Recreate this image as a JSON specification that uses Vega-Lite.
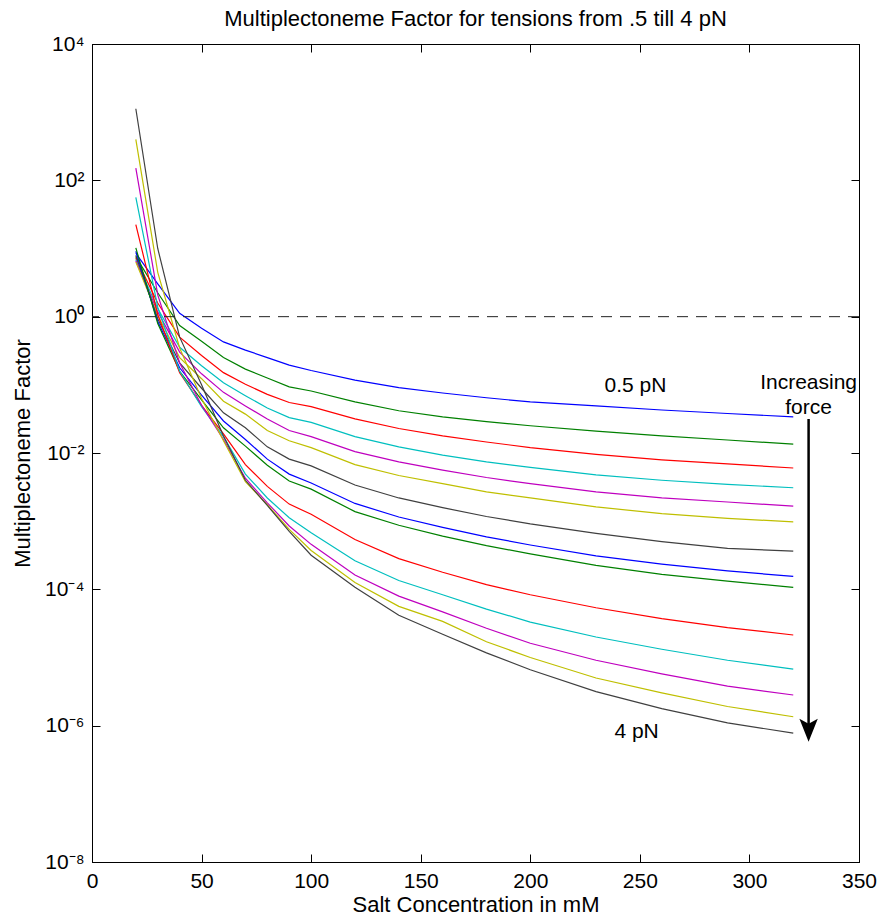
{
  "$schema": "https://vega.github.io/schema/vega-lite/v6.json",
  "width": 767,
  "height": 818,
  "autosize": {"type": "none"},
  "padding": {"left": 92, "top": 44, "right": 21, "bottom": 56},
  "background": "white",
  "config": {
    "font": "Liberation Sans",
    "view": {"stroke": "black", "strokeWidth": 1},
    "axis": {
      "labelFont": "Liberation Sans", "titleFont": "Liberation Sans",
      "labelFontSize": 21, "titleFontSize": 22, "titleFontWeight": "normal",
      "labelColor": "black", "titleColor": "black", "tickColor": "black", "domainColor": "black",
      "grid": false, "tickSize": -8, "labelPadding": 16, "labelFlush": false, "labelOverlap": false
    }
  },
  "title": {"text": "Multiplectoneme Factor for tensions from .5 till 4 pN", "fontSize": 22, "fontWeight": "normal", "font": "Liberation Sans", "color": "black", "anchor": "middle", "offset": 2},
  "datasets": {
    "curves": [
      {"s":"L01","x":20,"y":8.51},{"s":"L01","x":30,"y":3.02},{"s":"L01","x":40,"y":1.122},{"s":"L01","x":50,"y":0.676},{"s":"L01","x":60,"y":0.4266},{"s":"L01","x":70,"y":0.3236},{"s":"L01","x":80,"y":0.2512},{"s":"L01","x":90,"y":0.195},{"s":"L01","x":100,"y":0.1622},{"s":"L01","x":120,"y":0.1175},{"s":"L01","x":140,"y":0.0912},{"s":"L01","x":160,"y":0.0759},{"s":"L01","x":180,"y":0.0646},{"s":"L01","x":200,"y":0.0562},{"s":"L01","x":230,"y":0.049},{"s":"L01","x":260,"y":0.0427},{"s":"L01","x":290,"y":0.038},{"s":"L01","x":320,"y":0.0339},
      {"s":"L02","x":20,"y":7.59},{"s":"L02","x":30,"y":2.24},{"s":"L02","x":40,"y":0.741},{"s":"L02","x":50,"y":0.437},{"s":"L02","x":60,"y":0.251},{"s":"L02","x":70,"y":0.17},{"s":"L02","x":80,"y":0.126},{"s":"L02","x":90,"y":0.0933},{"s":"L02","x":100,"y":0.0813},{"s":"L02","x":120,"y":0.0562},{"s":"L02","x":140,"y":0.0417},{"s":"L02","x":160,"y":0.0339},{"s":"L02","x":180,"y":0.0288},{"s":"L02","x":200,"y":0.0251},{"s":"L02","x":230,"y":0.0209},{"s":"L02","x":260,"y":0.0178},{"s":"L02","x":290,"y":0.0155},{"s":"L02","x":320,"y":0.0135},
      {"s":"L03","x":20,"y":7.24},{"s":"L03","x":30,"y":1.585},{"s":"L03","x":40,"y":0.501},{"s":"L03","x":50,"y":0.269},{"s":"L03","x":60,"y":0.151},{"s":"L03","x":70,"y":0.102},{"s":"L03","x":80,"y":0.0724},{"s":"L03","x":90,"y":0.055},{"s":"L03","x":100,"y":0.0479},{"s":"L03","x":120,"y":0.0316},{"s":"L03","x":140,"y":0.0229},{"s":"L03","x":160,"y":0.0178},{"s":"L03","x":180,"y":0.0145},{"s":"L03","x":200,"y":0.012},{"s":"L03","x":230,"y":0.00955},{"s":"L03","x":260,"y":0.00794},{"s":"L03","x":290,"y":0.00692},{"s":"L03","x":320,"y":0.00603},
      {"s":"L04","x":20,"y":6.92},{"s":"L04","x":30,"y":1.318},{"s":"L04","x":40,"y":0.355},{"s":"L04","x":50,"y":0.191},{"s":"L04","x":60,"y":0.107},{"s":"L04","x":70,"y":0.0692},{"s":"L04","x":80,"y":0.0457},{"s":"L04","x":90,"y":0.0331},{"s":"L04","x":100,"y":0.0282},{"s":"L04","x":120,"y":0.0174},{"s":"L04","x":140,"y":0.0123},{"s":"L04","x":160,"y":0.00933},{"s":"L04","x":180,"y":0.00741},{"s":"L04","x":200,"y":0.00617},{"s":"L04","x":230,"y":0.00479},{"s":"L04","x":260,"y":0.00398},{"s":"L04","x":290,"y":0.00347},{"s":"L04","x":320,"y":0.00309},
      {"s":"L05","x":20,"y":6.61},{"s":"L05","x":30,"y":1.175},{"s":"L05","x":40,"y":0.302},{"s":"L05","x":50,"y":0.145},{"s":"L05","x":60,"y":0.0776},{"s":"L05","x":70,"y":0.049},{"s":"L05","x":80,"y":0.0316},{"s":"L05","x":90,"y":0.0214},{"s":"L05","x":100,"y":0.0174},{"s":"L05","x":120,"y":0.0105},{"s":"L05","x":140,"y":0.00741},{"s":"L05","x":160,"y":0.00562},{"s":"L05","x":180,"y":0.00437},{"s":"L05","x":200,"y":0.00355},{"s":"L05","x":230,"y":0.00269},{"s":"L05","x":260,"y":0.00219},{"s":"L05","x":290,"y":0.00191},{"s":"L05","x":320,"y":0.00166},
      {"s":"L06","x":20,"y":6.31},{"s":"L06","x":30,"y":1.047},{"s":"L06","x":40,"y":0.251},{"s":"L06","x":50,"y":0.123},{"s":"L06","x":60,"y":0.0575},{"s":"L06","x":70,"y":0.0372},{"s":"L06","x":80,"y":0.0214},{"s":"L06","x":90,"y":0.0151},{"s":"L06","x":100,"y":0.012},{"s":"L06","x":120,"y":0.00676},{"s":"L06","x":140,"y":0.00468},{"s":"L06","x":160,"y":0.00355},{"s":"L06","x":180,"y":0.00269},{"s":"L06","x":200,"y":0.00219},{"s":"L06","x":230,"y":0.00162},{"s":"L06","x":260,"y":0.00129},{"s":"L06","x":290,"y":0.0011},{"s":"L06","x":320,"y":0.000977},
      {"s":"L07","x":20,"y":7.94},{"s":"L07","x":30,"y":0.933},{"s":"L07","x":40,"y":0.209},{"s":"L07","x":50,"y":0.0891},{"s":"L07","x":60,"y":0.0389},{"s":"L07","x":70,"y":0.0234},{"s":"L07","x":80,"y":0.0123},{"s":"L07","x":90,"y":0.00813},{"s":"L07","x":100,"y":0.00646},{"s":"L07","x":120,"y":0.00339},{"s":"L07","x":140,"y":0.00219},{"s":"L07","x":160,"y":0.00158},{"s":"L07","x":180,"y":0.00117},{"s":"L07","x":200,"y":0.000912},{"s":"L07","x":230,"y":0.000661},{"s":"L07","x":260,"y":0.000501},{"s":"L07","x":290,"y":0.000398},{"s":"L07","x":320,"y":0.000363},
      {"s":"L08","x":20,"y":9.12},{"s":"L08","x":30,"y":0.851},{"s":"L08","x":40,"y":0.178},{"s":"L08","x":50,"y":0.0708},{"s":"L08","x":60,"y":0.0295},{"s":"L08","x":70,"y":0.0158},{"s":"L08","x":80,"y":0.00813},{"s":"L08","x":90,"y":0.0049},{"s":"L08","x":100,"y":0.00363},{"s":"L08","x":120,"y":0.00182},{"s":"L08","x":140,"y":0.00115},{"s":"L08","x":160,"y":0.000813},{"s":"L08","x":180,"y":0.000589},{"s":"L08","x":200,"y":0.000447},{"s":"L08","x":230,"y":0.000309},{"s":"L08","x":260,"y":0.000234},{"s":"L08","x":290,"y":0.000186},{"s":"L08","x":320,"y":0.000155},
      {"s":"L09","x":20,"y":10.23},{"s":"L09","x":30,"y":0.794},{"s":"L09","x":40,"y":0.158},{"s":"L09","x":50,"y":0.0603},{"s":"L09","x":60,"y":0.0234},{"s":"L09","x":70,"y":0.0126},{"s":"L09","x":80,"y":0.00661},{"s":"L09","x":90,"y":0.00389},{"s":"L09","x":100,"y":0.00295},{"s":"L09","x":120,"y":0.00138},{"s":"L09","x":140,"y":0.000871},{"s":"L09","x":160,"y":0.000603},{"s":"L09","x":180,"y":0.000437},{"s":"L09","x":200,"y":0.000331},{"s":"L09","x":230,"y":0.000224},{"s":"L09","x":260,"y":0.000166},{"s":"L09","x":290,"y":0.000132},{"s":"L09","x":320,"y":0.000107},
      {"s":"L10","x":20,"y":22.4},{"s":"L10","x":30,"y":1.072},{"s":"L10","x":40,"y":0.151},{"s":"L10","x":50,"y":0.0501},{"s":"L10","x":60,"y":0.0191},{"s":"L10","x":70,"y":0.00676},{"s":"L10","x":80,"y":0.00324},{"s":"L10","x":90,"y":0.00178},{"s":"L10","x":100,"y":0.00126},{"s":"L10","x":120,"y":0.000537},{"s":"L10","x":140,"y":0.000282},{"s":"L10","x":160,"y":0.000178},{"s":"L10","x":180,"y":0.000117},{"s":"L10","x":200,"y":0.0000832},{"s":"L10","x":230,"y":0.0000537},{"s":"L10","x":260,"y":0.0000372},{"s":"L10","x":290,"y":0.0000275},{"s":"L10","x":320,"y":0.0000214},
      {"s":"L11","x":20,"y":56.2},{"s":"L11","x":30,"y":1.38},{"s":"L11","x":40,"y":0.158},{"s":"L11","x":50,"y":0.0479},{"s":"L11","x":60,"y":0.0174},{"s":"L11","x":70,"y":0.0049},{"s":"L11","x":80,"y":0.00219},{"s":"L11","x":90,"y":0.00112},{"s":"L11","x":100,"y":0.000676},{"s":"L11","x":120,"y":0.000263},{"s":"L11","x":140,"y":0.000135},{"s":"L11","x":160,"y":0.0000832},{"s":"L11","x":180,"y":0.0000513},{"s":"L11","x":200,"y":0.0000331},{"s":"L11","x":230,"y":0.00002},{"s":"L11","x":260,"y":0.0000132},{"s":"L11","x":290,"y":0.00000912},{"s":"L11","x":320,"y":0.00000676},
      {"s":"L12","x":20,"y":151},{"s":"L12","x":30,"y":2.09},{"s":"L12","x":40,"y":0.209},{"s":"L12","x":50,"y":0.0501},{"s":"L12","x":60,"y":0.0158},{"s":"L12","x":70,"y":0.00427},{"s":"L12","x":80,"y":0.00186},{"s":"L12","x":90,"y":0.000851},{"s":"L12","x":100,"y":0.000457},{"s":"L12","x":120,"y":0.000162},{"s":"L12","x":140,"y":0.0000794},{"s":"L12","x":160,"y":0.0000468},{"s":"L12","x":180,"y":0.0000269},{"s":"L12","x":200,"y":0.0000162},{"s":"L12","x":230,"y":0.00000912},{"s":"L12","x":260,"y":0.00000575},{"s":"L12","x":290,"y":0.0000038},{"s":"L12","x":320,"y":0.00000282},
      {"s":"L13","x":20,"y":398},{"s":"L13","x":30,"y":4.47},{"s":"L13","x":40,"y":0.347},{"s":"L13","x":50,"y":0.0631},{"s":"L13","x":60,"y":0.0151},{"s":"L13","x":70,"y":0.0038},{"s":"L13","x":80,"y":0.00174},{"s":"L13","x":90,"y":0.000759},{"s":"L13","x":100,"y":0.000372},{"s":"L13","x":120,"y":0.000126},{"s":"L13","x":140,"y":0.0000562},{"s":"L13","x":160,"y":0.0000339},{"s":"L13","x":180,"y":0.000017},{"s":"L13","x":200,"y":0.00001},{"s":"L13","x":230,"y":0.00000501},{"s":"L13","x":260,"y":0.00000302},{"s":"L13","x":290,"y":0.00000191},{"s":"L13","x":320,"y":0.00000135},
      {"s":"L14","x":20,"y":1122},{"s":"L14","x":30,"y":10},{"s":"L14","x":40,"y":0.501},{"s":"L14","x":50,"y":0.1},{"s":"L14","x":60,"y":0.0178},{"s":"L14","x":70,"y":0.00398},{"s":"L14","x":80,"y":0.0017},{"s":"L14","x":90,"y":0.000708},{"s":"L14","x":100,"y":0.000316},{"s":"L14","x":120,"y":0.000107},{"s":"L14","x":140,"y":0.0000417},{"s":"L14","x":160,"y":0.0000219},{"s":"L14","x":180,"y":0.0000117},{"s":"L14","x":200,"y":0.0000066},{"s":"L14","x":230,"y":0.00000316},{"s":"L14","x":260,"y":0.00000178},{"s":"L14","x":290,"y":0.0000011},{"s":"L14","x":320,"y":0.000000776}
    ]
  },
  "layer": [
    {
      "data": {"name": "curves"},
      "mark": {"type": "line", "strokeWidth": 1.2, "clip": true},
      "encoding": {
        "x": {"field": "x", "type": "quantitative", "scale": {"domain": [0, 350], "nice": false},
              "axis": {"orient": "bottom", "values": [0,50,100,150,200,250,300,350], "title": "Salt Concentration in mM", "titlePadding": 3}},
        "y": {"field": "y", "type": "quantitative", "scale": {"type": "log", "domain": [1e-8, 10000], "nice": false},
              "axis": {"orient": "left", "values": [1e-8,1e-6,1e-4,1e-2,1,100,10000], "title": "Multiplectoneme Factor", "titlePadding": 10,
                       "labelExpr": "datum.value > 5000 ? '10⁴' : datum.value > 50 ? '10²' : datum.value > 0.5 ? '10⁰' : datum.value > 0.005 ? '10⁻²' : datum.value > 0.00005 ? '10⁻⁴' : datum.value > 0.0000005 ? '10⁻⁶' : '10⁻⁸'"}},
        "color": {"field": "s", "type": "nominal", "legend": null,
                  "scale": {"domain": ["L01","L02","L03","L04","L05","L06","L07","L08","L09","L10","L11","L12","L13","L14"],
                            "range": ["#0000ff","#008000","#ff0000","#00bfbf","#bf00bf","#bfbf00","#404040","#0000ff","#008000","#ff0000","#00bfbf","#bf00bf","#bfbf00","#404040"]}},
        "detail": {"field": "s"}
      }
    },
    {
      "data": {"values": [{"y": 1}]},
      "mark": {"type": "rule", "color": "#222222", "strokeWidth": 1, "strokeDash": [11, 8]},
      "encoding": {"y": {"field": "y", "type": "quantitative", "axis": null}}
    },
    {
      "data": {"values": [
        {"x": 248, "y": 0.0966, "t": "0.5 pN"},
        {"x": 248.5, "y": 0.00000082, "t": "4 pN"},
        {"x": 327, "y": 0.107, "t": "Increasing"},
        {"x": 327, "y": 0.0458, "t": "force"}
      ]},
      "mark": {"type": "text", "fontSize": 21, "font": "Liberation Sans", "color": "black", "align": "center", "baseline": "middle"},
      "encoding": {
        "x": {"field": "x", "type": "quantitative", "axis": null},
        "y": {"field": "y", "type": "quantitative", "axis": null},
        "text": {"field": "t"}
      }
    },
    {
      "data": {"values": [{"x": 327, "y": 0.0316, "y2": 0.00000078}]},
      "mark": {"type": "rule", "color": "black", "strokeWidth": 2.5},
      "encoding": {
        "x": {"field": "x", "type": "quantitative", "axis": null},
        "y": {"field": "y", "type": "quantitative", "axis": null},
        "y2": {"field": "y2"}
      }
    },
    {
      "data": {"values": [{"x": 327, "y": 0.00000086}]},
      "mark": {"type": "point", "shape": "M0,1 L-0.8,-1 L0,-0.55 L0.8,-1 Z", "filled": true, "color": "black", "opacity": 1, "size": 529},
      "encoding": {
        "x": {"field": "x", "type": "quantitative", "axis": null},
        "y": {"field": "y", "type": "quantitative", "axis": null}
      }
    },
    {
      "data": {"name": "curves"},
      "mark": {"type": "point", "opacity": 0},
      "encoding": {
        "x": {"field": "x", "type": "quantitative", "axis": {"orient": "top", "values": [0,50,100,150,200,250,300,350], "labels": false, "title": null}},
        "y": {"field": "y", "type": "quantitative", "axis": {"orient": "right", "values": [1e-8,1e-6,1e-4,1e-2,1,100,10000], "labels": false, "title": null}}
      }
    }
  ],
  "resolve": {"axis": {"x": "independent", "y": "independent"}}
}
